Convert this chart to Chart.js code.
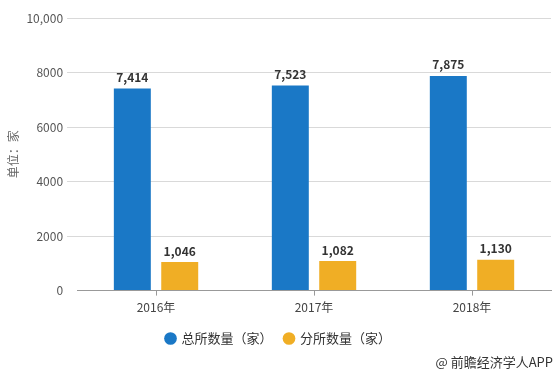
<!DOCTYPE html>
<html>
<head>
<meta charset="utf-8">
<script src="https://cdn.jsdelivr.net/npm/chart.js@4/dist/chart.umd.min.js"></script>
<style>
html,body{margin:0;padding:0;background:#fff;}
#wrap{position:relative;width:560px;height:373px;}
#src{position:absolute;right:7px;top:352px;font-family:"Microsoft YaHei","Noto Sans CJK SC",sans-serif;font-size:13px;color:#333;}
</style>
</head>
<body>
<div id="wrap">
<canvas id="c" width="560" height="373"></canvas>
<div id="src">@ 前瞻经济学人APP</div>
</div>
<script>
const categories = ["2016年", "2017年", "2018年"];
const seriesNames = ["总所数量（家）", "分所数量（家）"];
const headOffices = [7414, 7523, 7875];
const branchOffices = [1046, 1082, 1130];
const yTicks = [0, 2000, 4000, 6000, 8000, 10000];
const yTickLabels = ["0", "2000", "4000", "6000", "8000", "10,000"];

const FONT = '"Microsoft YaHei","Noto Sans CJK SC",sans-serif';

const valueLabels = {
  id: 'valueLabels',
  afterDatasetsDraw(chart) {
    const ctx = chart.ctx;
    ctx.save();
    ctx.font = 'bold 12px ' + FONT;
    ctx.fillStyle = '#333';
    ctx.textAlign = 'center';
    ctx.textBaseline = 'bottom';
    chart.data.datasets.forEach((ds, i) => {
      chart.getDatasetMeta(i).data.forEach((bar, j) => {
        ctx.fillText(ds.data[j].toLocaleString('en-US'), bar.x, bar.y - 5);
      });
    });
    ctx.restore();
  }
};

new Chart(document.getElementById('c'), {
  type: 'bar',
  data: {
    labels: categories,
    datasets: [
      { label: seriesNames[0], data: headOffices, backgroundColor: '#1a78c6' },
      { label: seriesNames[1], data: branchOffices, backgroundColor: '#f0ae25' }
    ]
  },
  options: {
    responsive: false,
    animation: false,
    layout: { padding: { left: 6, right: 9, top: 18, bottom: 18 } },
    datasets: { bar: { categoryPercentage: 0.6, barPercentage: 0.78 } },
    plugins: {
      legend: {
        position: 'bottom',
        labels: {
          usePointStyle: true, pointStyle: 'circle', boxWidth: 9, boxHeight: 9,
          padding: 12, color: '#333', font: { family: FONT, size: 13 }
        }
      },
      tooltip: { enabled: false }
    },
    scales: {
      x: {
        grid: { offset: false, drawOnChartArea: false, color: '#999', tickLength: 5 },
        border: { color: '#999' },
        ticks: { color: '#444', font: { family: FONT, size: 12 }, padding: 5 }
      },
      y: {
        min: 0, max: 10000,
        afterBuildTicks(axis) { axis.ticks = yTicks.map(v => ({ value: v })); },
        grid: { color: ctx => ctx.tick && ctx.tick.value === 0 ? 'rgba(0,0,0,0)' : '#d9d9d9', tickLength: 10 },
        border: { display: false },
        ticks: {
          color: '#555', font: { family: FONT, size: 12 }, padding: 4,
          callback: (v) => { const i = yTicks.indexOf(v); return i >= 0 ? yTickLabels[i] : ''; }
        },
        title: { display: true, text: '单位：家', color: '#666', font: { family: FONT, size: 12 }, padding: { top: 0, bottom: 2 } }
      }
    }
  },
  plugins: [valueLabels]
});
</script>
</body>
</html>
